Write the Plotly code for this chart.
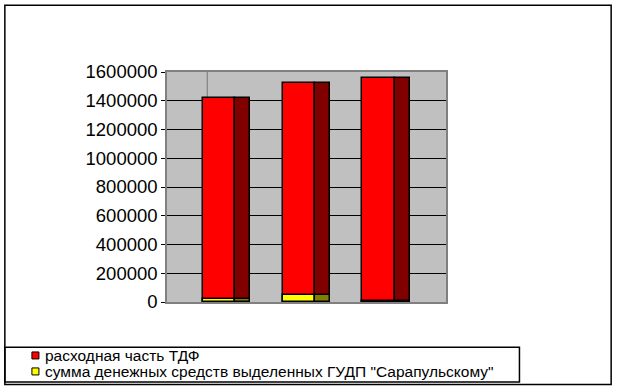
import plotly.graph_objects as go

# ---- data ----
categories = [0, 1, 2]
series_names = ["расходная часть ТДФ", "сумма денежных средств выделенных ГУДП \"Сарапульскому\""]
expenses = [1420000, 1525000, 1560000]
allocated = [20000, 48000, 5000]
y_ticks = [0, 200000, 400000, 600000, 800000, 1000000, 1200000, 1400000, 1600000]

front_colors = ["#FF0000", "#FFFF00"]
side_colors = ["#800000", "#808000"]

W, H = 620, 390
L, R, T, B = 167.3, 620 - 445.7, 72.3, 390 - 302.5
pw, ph = W - L - R, H - T - B

def px(x):
    return (x - L) / pw

def py(y):
    return (H - B - y) / ph

fig = go.Figure()
for vals, fc, sc in [(expenses, front_colors[0], side_colors[0]),
                     (allocated, front_colors[1], side_colors[1])]:
    fig.add_trace(go.Bar(x=categories, y=vals, offset=-0.30, width=0.405,
                         marker=dict(color=fc, line=dict(color="black", width=1.5)),
                         showlegend=False, hoverinfo="skip"))
    fig.add_trace(go.Bar(x=categories, y=vals, offset=0.105, width=0.19,
                         marker=dict(color=sc, line=dict(color="black", width=1.5)),
                         showlegend=False, hoverinfo="skip"))

shapes = []
# back-wall corner line
shapes.append(dict(type="line", xref="paper", yref="paper", x0=px(207.5), x1=px(207.5),
                   y0=0, y1=1, line=dict(color="#808080", width=1.2), layer="below"))
# outer border
shapes.append(dict(type="rect", xref="paper", yref="paper", x0=px(5.5), x1=px(610.5),
                   y0=py(385), y1=py(5.5), line=dict(color="black", width=1.5)))
# legend box
shapes.append(dict(type="rect", xref="paper", yref="paper", x0=px(5.5), x1=px(519),
                   y0=py(382.5), y1=py(347.8), line=dict(color="black", width=1.5)))
annotations = []
for i, name in enumerate(series_names):
    cy = 356 + i * 16
    shapes.append(dict(type="rect", xref="paper", yref="paper", x0=px(32.5), x1=px(39.5),
                       y0=py(cy + 3.5), y1=py(cy - 3.5), fillcolor=front_colors[i],
                       line=dict(color="black", width=1)))
    annotations.append(dict(xref="paper", yref="paper", x=px(44), y=py(cy), text=name,
                            showarrow=False, xanchor="left", yanchor="middle",
                            font=dict(family="Liberation Sans, Arial", size=15.5, color="black")))

fig.update_layout(
    width=W, height=H, margin=dict(l=L, r=R, t=T, b=B, pad=0),
    paper_bgcolor="white", plot_bgcolor="#C0C0C0",
    barmode="overlay", bargap=0,
    shapes=shapes, annotations=annotations,
    xaxis=dict(range=[-0.751, 2.751], showticklabels=False, ticks="", showgrid=False,
               zeroline=False, showline=True, linecolor="#808080", linewidth=1.5, mirror=True),
    yaxis=dict(range=[0, 1600000], tickvals=y_ticks, ticktext=[str(v) for v in y_ticks],
               showgrid=True, gridcolor="black", gridwidth=1, zeroline=False,
               showline=True, linecolor="#808080", linewidth=1.5, mirror=True,
               ticks="outside", ticklen=4, tickcolor="black", tickwidth=1.2,
               tickfont=dict(family="Liberation Sans, Arial", size=18.5, color="black")),
)
fig.write_html("out.html")
